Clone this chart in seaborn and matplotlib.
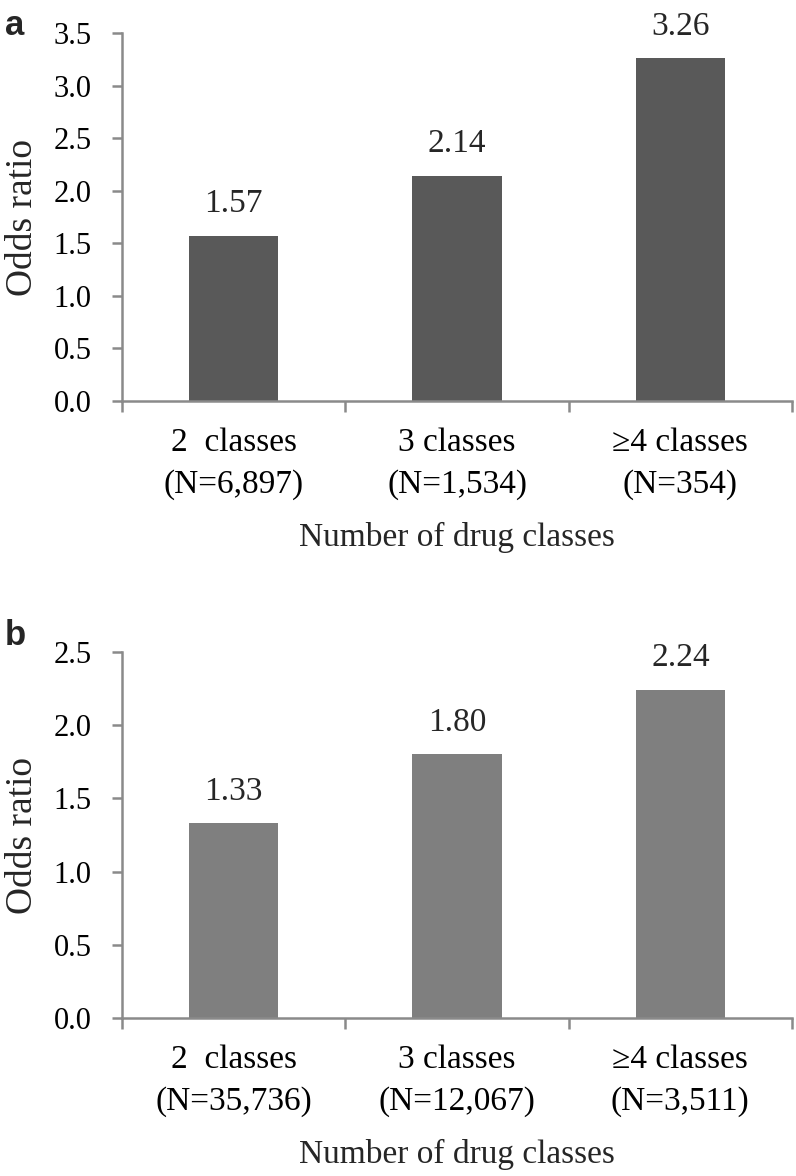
import numpy as np
import pandas as pd
import matplotlib
matplotlib.use("Agg")
import matplotlib.pyplot as plt
import seaborn as sns

# DATA

classes_a = ["2  classes\n(N=6,897)", "3 classes\n(N=1,534)", "\u22654 classes\n(N=354)"]
odds_a = [1.57, 2.14, 3.26]

classes_b = ["2  classes\n(N=35,736)", "3 classes\n(N=12,067)", "\u22654 classes\n(N=3,511)"]
odds_b = [1.33, 1.80, 2.24]

yticks_a = [0.0, 0.5, 1.0, 1.5, 2.0, 2.5, 3.0, 3.5]
yticks_b = [0.0, 0.5, 1.0, 1.5, 2.0, 2.5]

# STYLE

sns.set_theme(style="white")
serif = ["Liberation Serif", "DejaVu Serif"]
plt.rcParams["font.family"] = serif

axis_grey = "#8a8a8a"

W, H = 796, 1176
fig = plt.figure(figsize=(W / 100, H / 100), dpi=100)

# axes boxes in pixels: left, right, top, bottom
ax_a = fig.add_axes([122 / W, 1 - 401 / H, 670 / W, 368 / H])
ax_b = fig.add_axes([122 / W, 1 - 1018 / H, 670 / W, 366 / H])


def draw_panel(ax, cats, vals, yticks, bar_color, letter, letter_y):
    df = pd.DataFrame({"cls": cats, "odds": vals})
    sns.barplot(data=df, x="cls", y="odds", color=bar_color, saturation=1,
                width=0.4, linewidth=0, ax=ax)

    ax.set_xlim(-0.5, 2.5)
    ax.set_ylim(yticks[0], yticks[-1])
    ax.set_yticks(yticks)
    ax.set_yticklabels([f"{t:.1f}" for t in yticks])

    # major ticks at category borders, labels on minor ticks at centers
    ax.set_xticks([-0.5, 0.5, 1.5, 2.5])
    ax.set_xticklabels([])
    ax.set_xticks([0, 1, 2], minor=True)
    ax.set_xticklabels(cats, minor=True, fontsize=24, linespacing=1.5,
                       family=serif)

    ax.tick_params(axis="x", which="major", direction="out", length=8,
                   width=1.8, color=axis_grey, bottom=True)
    ax.tick_params(axis="x", which="minor", length=0, pad=19, colors="black",
                   bottom=True)
    ax.tick_params(axis="y", direction="out", length=7, width=1.8,
                   color=axis_grey, pad=15, left=True, labelsize=22,
                   labelcolor="black", labelfontfamily="Liberation Serif")

    sns.despine(ax=ax)
    for s in ["left", "bottom"]:
        ax.spines[s].set_color(axis_grey)
        ax.spines[s].set_linewidth(1.8)

    ax.set_ylabel("Odds ratio", fontsize=27, va="center", family=serif)
    ax.yaxis.set_label_coords(-0.148, 0.5)
    ax.set_xlabel("Number of drug classes", fontsize=24, va="baseline",
                  family=serif)
    ax.xaxis.set_label_coords(0.5, -145 / 367)

    for i, v in enumerate(vals):
        ax.annotate(f"{v:.2f}", (i, v), xytext=(0, 17),
                    textcoords="offset points", ha="center", va="baseline",
                    fontsize=24, family=serif)

    fig.text(5 / W, 1 - letter_y / H, letter, fontsize=25, fontweight="bold",
             family=["Liberation Sans", "DejaVu Sans"], va="baseline")


draw_panel(ax_a, classes_a, odds_a, yticks_a, "#595959", "a", 35)
draw_panel(ax_b, classes_b, odds_b, yticks_b, "#7f7f7f", "b", 645)

fig.savefig("out.png", dpi=100)
